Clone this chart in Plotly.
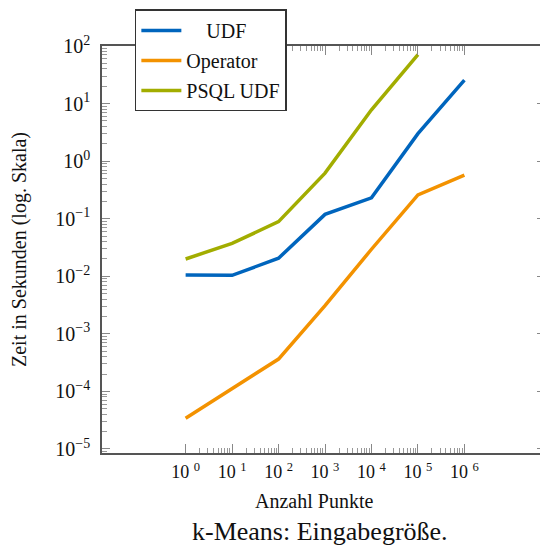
import plotly.graph_objects as go

# Data
points = [1, 10, 100, 1000, 10000, 100000, 1000000]
udf = [0.0105, 0.0104, 0.0206, 0.119, 0.231, 3.0, 25.5]
operator = [3.43e-5, 1.11e-4, 3.65e-4, 3.09e-3, 0.0295, 0.26, 0.57]
psql_udf = [0.020, 0.0373, 0.089, 0.62, 7.8, 71]

x_major = [1, 10, 100, 1000, 10000, 100000, 1000000]
x_major_text = ["10 <sup>0</sup>", "10 <sup>1</sup>", "10 <sup>2</sup>", "10 <sup>3</sup>",
                "10 <sup>4</sup>", "10 <sup>5</sup>", "10 <sup>6</sup>"]
y_major = [1e-5, 1e-4, 1e-3, 1e-2, 1e-1, 1, 10, 100]
y_major_text = ["10<sup>−5</sup>", "10<sup>−4</sup>", "10<sup>−3</sup>", "10<sup>−2</sup>",
                "10<sup>−1</sup>", "10<sup>0</sup>", "10<sup>1</sup>", "10<sup>2</sup>"]

x_minor = [m * 10 ** k for k in range(0, 6) for m in range(2, 10)]
y_minor = [m * 10.0 ** k for k in range(-6, 2) for m in range(2, 10)]

FONT = "Liberation Serif, Times New Roman, serif"
BLUE = "#0065BD"
ORANGE = "#F39200"
GREEN = "#A2AD00"

# page body has an 8px margin; figure is sized to fit the window
OFF = 8
W, H = 548 - OFF, 546 - OFF
L, T, R, B = 102 - OFF, 41 - OFF, 1, 546 - 453
PW, PH = W - L - R, H - T - B

fig = go.Figure()
fig.add_trace(go.Scatter(x=points, y=udf, mode="lines", name="\u00a0\u00a0\u00a0\u00a0UDF",
                         line=dict(color=BLUE, width=3.5), legendgroup="a"))
fig.add_trace(go.Scatter(x=points, y=operator, mode="lines", name="Operator",
                         line=dict(color=ORANGE, width=3.5), legendgroup="b"))
fig.add_trace(go.Scatter(x=points[:len(psql_udf)], y=psql_udf, mode="lines", name="PSQL UDF",
                         line=dict(color=GREEN, width=3.5), legendgroup="c"))

axis_common = dict(
    showgrid=False, zeroline=False, showline=True, linecolor="#555555", linewidth=1.5,
    mirror="ticks", ticks="inside", tickcolor="#888888", tickwidth=1,
)

fig.update_xaxes(
    type="log", range=[-1.8, 7.735],
    tickmode="array", tickvals=x_major, ticktext=x_major_text, ticklen=9,
    minor=dict(tickmode="array", tickvals=x_minor, ticks="inside", ticklen=5,
               tickcolor="#999999", tickwidth=1),
    tickfont=dict(family=FONT, size=18, color="#111111"),
    ticklabelstandoff=2,
    **axis_common,
)
fig.update_yaxes(
    type="log", range=[-5.07, 2.001],
    tickmode="array", tickvals=y_major, ticktext=y_major_text, ticklen=8,
    minor=dict(tickmode="array", tickvals=y_minor, ticks="inside", ticklen=5,
               tickcolor="#999999", tickwidth=1),
    tickfont=dict(family=FONT, size=20, color="#111111"),
    ticklabelstandoff=6,
    title=dict(text="Zeit in Sekunden (log. Skala)", font=dict(family=FONT, size=20, color="#111111"),
               standoff=25),
    **axis_common,
)

# x-axis title and caption
fig.add_annotation(text="Anzahl Punkte", xref="paper", yref="paper",
                   x=(315 - 102) / PW, y=(453 - 502) / PH, xanchor="center", yanchor="middle",
                   showarrow=False, font=dict(family=FONT, size=20, color="#111111"))
fig.add_annotation(text="k-Means: Eingabegröße.", xref="paper", yref="paper",
                   x=(321 - 102) / PW, y=(453 - 532) / PH, xanchor="center", yanchor="middle",
                   showarrow=False, font=dict(family=FONT, size=26, color="#111111"))

fig.update_layout(
    width=W, height=H,
    margin=dict(l=L, r=R, t=T, b=B),
    paper_bgcolor="white", plot_bgcolor="white",
    showlegend=True,
    legend=dict(
        x=(135 - 102) / PW, y=(453 - 4) / PH, xanchor="left", yanchor="top",
        bgcolor="white", bordercolor="#333333", borderwidth=1.5,
        font=dict(family=FONT, size=20, color="#111111"),
        traceorder="grouped", tracegroupgap=1, itemwidth=40,
    ),
)

fig.write_html("out.html")
